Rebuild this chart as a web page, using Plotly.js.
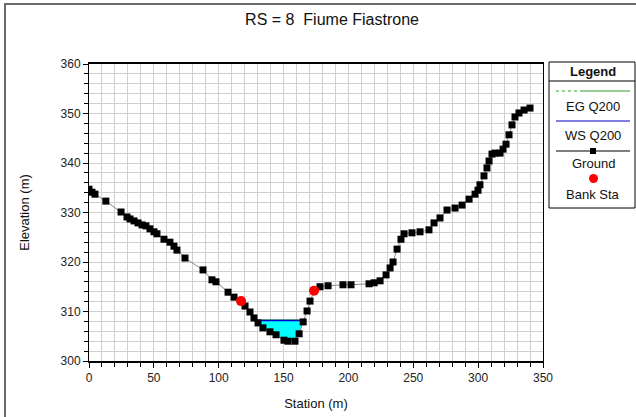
<!DOCTYPE html>
<html>
<head>
<meta charset="utf-8">
<script src="https://cdn.plot.ly/plotly-3.0.1.min.js"></script>
<style>
  html, body { margin: 0; padding: 0; background: #fff; }
  #chart { position: absolute; left: 0; top: 0; width: 636px; height: 417px; }
  #frame { position: absolute; left: 4px; top: 3px; width: 660px; height: 440px;
           border: 2px solid #6a6a6a; pointer-events: none; }
</style>
</head>
<body>
<div id="chart"></div>
<div id="frame"></div>
<script>
// Cross-section RS = 8, Fiume Fiastrone: ground survey points (station, elevation)
const groundStation = [0, 2.3, 4.6, 13, 24.7, 29.3, 31.6, 34.7, 37.8, 40.9, 43.9, 47, 50.1, 52.4,
  57.8, 62.4, 65.5, 67.8, 74, 87.9, 94.8, 97.9, 107.2, 111.8, 117.2, 120.3, 124.1, 127.2,
  130.3, 134.1, 139.5, 144.2, 150.3, 153.4, 158.8, 162, 165.1, 168.1, 170.4, 173.5, 178.1,
  184.3, 195.8, 202, 215.9, 219.8, 224.4, 229, 232.1, 234.4, 237.5, 240.5, 242.9, 249,
  255.2, 262.1, 266, 270.6, 276, 282.2, 287.6, 293, 297.6, 299.9, 301.4, 304.5, 306.8,
  308.4, 310.7, 313, 316.9, 319.2, 321.5, 323.8, 326.1, 328.4, 331.5, 335.4, 340];
const groundElev = [334.7, 334.1, 333.7, 332.3, 330.1, 329.1, 328.7, 328.3, 327.9, 327.5, 327.3,
  326.7, 326.1, 325.7, 324.6, 324, 323.2, 322.4, 320.8, 318.4, 316.4, 316, 313.9, 312.9,
  312.1, 311.1, 309.9, 308.7, 307.7, 306.7, 305.9, 305.3, 304.2, 304, 304, 305.5, 307.9,
  310.1, 312.1, 314.2, 315, 315.2, 315.4, 315.4, 315.6, 315.8, 316.2, 317.4, 318.8, 320,
  322.6, 324.6, 325.7, 325.9, 326.1, 326.5, 327.9, 328.9, 330.5, 330.9, 331.5, 332.7,
  333.7, 334.5, 335.6, 337.4, 339, 340.4, 341.8, 342, 342, 342.8, 343.8, 345.7, 347.7,
  349.3, 350.1, 350.7, 351.1];

// Bank stations
const bankStation = [117.2, 173.5];
const bankElev = [312.1, 314.2];

// Q200 profile: water surface and energy grade, with the wetted edges of the channel
const wsEdges = [126.4, 165.2];
const wsElev = 308.2;
const egElev = 308.3;

// Water polygon: surface line, then ground back across the channel bed
const waterX = [wsEdges[0], wsEdges[1]];
const waterY = [wsElev, wsElev];
for (let i = groundStation.length - 1; i >= 0; i--) {
  if (groundStation[i] > wsEdges[0] && groundStation[i] < wsEdges[1]) {
    waterX.push(groundStation[i]);
    waterY.push(groundElev[i]);
  }
}
waterX.push(wsEdges[0]);
waterY.push(wsElev);

const traces = [
  { x: waterX, y: waterY, type: 'scatter', mode: 'lines', fill: 'toself',
    fillcolor: '#00ffff', line: { color: 'rgba(0,0,0,0)', width: 0 }, hoverinfo: 'skip' },
  { x: wsEdges, y: [egElev, egElev], type: 'scatter', mode: 'lines', name: 'EG Q200',
    line: { color: '#2ca02c', width: 1 } },
  { x: wsEdges, y: [wsElev, wsElev], type: 'scatter', mode: 'lines', name: 'WS Q200',
    line: { color: '#0000cc', width: 1.5 } },
  { x: groundStation, y: groundElev, type: 'scatter', mode: 'lines+markers', name: 'Ground',
    line: { color: '#8a8a8a', width: 1 },
    marker: { symbol: 'square', size: 7, color: '#000' } },
  { x: bankStation, y: bankElev, type: 'scatter', mode: 'markers', name: 'Bank Sta',
    marker: { symbol: 'circle', size: 10, color: '#ff0000' } }
];

// Plot area in pixels (left 89, right 543, top 64, bottom 361); helpers for the legend panel
const L = 89, R = 543, T = 64, B = 361;
const px = x => (x - L) / (R - L);
const py = y => (B - y) / (B - T);
const font = 'Liberation Sans, Arial, sans-serif';

const legendShapes = [
  { type: 'rect', xref: 'paper', yref: 'paper', x0: px(549), x1: px(635), y0: py(208), y1: py(62),
    line: { color: '#000', width: 1 }, fillcolor: '#fff', layer: 'above' },
  { type: 'line', xref: 'paper', yref: 'paper', x0: px(549), x1: px(635), y0: py(81), y1: py(81),
    line: { color: '#000', width: 1 } },
  { type: 'line', xref: 'paper', yref: 'paper', x0: px(556), x1: px(583), y0: py(91), y1: py(91),
    line: { color: '#2ca02c', width: 1, dash: 'dot' } },
  { type: 'line', xref: 'paper', yref: 'paper', x0: px(583), x1: px(630), y0: py(91), y1: py(91),
    line: { color: '#2ca02c', width: 1 } },
  { type: 'line', xref: 'paper', yref: 'paper', x0: px(556), x1: px(630), y0: py(121), y1: py(121),
    line: { color: '#0000cc', width: 1.2 } },
  { type: 'line', xref: 'paper', yref: 'paper', x0: px(556), x1: px(630), y0: py(151), y1: py(151),
    line: { color: '#000', width: 1 } },
  { type: 'rect', xref: 'paper', yref: 'paper', x0: px(590), x1: px(596), y0: py(154), y1: py(148),
    line: { color: '#000', width: 0 }, fillcolor: '#000' },
  { type: 'circle', xref: 'paper', yref: 'paper', x0: px(589), x1: px(598), y0: py(183), y1: py(174),
    line: { color: '#ff0000', width: 0 }, fillcolor: '#ff0000' }
];

const legendText = [
  ['Legend', 71, true], ['EG Q200', 106, false], ['WS Q200', 135, false],
  ['Ground', 163, false], ['Bank Sta', 194, false]
].map(([t, y, bold]) => ({
  text: bold ? '<b>' + t + '</b>' : t, xref: 'paper', yref: 'paper',
  x: px(593), y: py(y), xanchor: 'center', yanchor: 'middle', showarrow: false,
  font: { family: font, size: 13, color: '#111' }
}));

const layout = {
  width: 636, height: 417,
  margin: { l: L, r: 636 - R, t: T, b: 417 - B, pad: 0 },
  paper_bgcolor: '#fff', plot_bgcolor: '#fff',
  showlegend: false,
  font: { family: font, size: 12, color: '#222' },
  title: { text: 'RS = 8  Fiume Fiastrone', x: 332 / 636, xref: 'container', xanchor: 'center',
           y: 1 - 19 / 417, yref: 'container', yanchor: 'middle',
           font: { family: font, size: 16, color: '#111' } },
  xaxis: {
    range: [0, 350], dtick: 50, tick0: 0, ticks: 'outside', ticklen: 5, tickcolor: '#000',
    showline: true, linecolor: '#000', linewidth: 2, mirror: true, zeroline: false,
    showgrid: true, gridcolor: '#d0d0d0', gridwidth: 1,
    minor: { dtick: 10, ticks: 'outside', ticklen: 4, tickcolor: '#000', showgrid: true,
             gridcolor: '#d0d0d0', gridwidth: 1 },
    tickfont: { family: font, size: 12, color: '#222' },
    title: { text: 'Station (m)', standoff: 14, font: { family: font, size: 13, color: '#111' } }
  },
  yaxis: {
    range: [300, 360], dtick: 10, tick0: 300, ticks: 'outside', ticklen: 5, tickcolor: '#000',
    showline: true, linecolor: '#000', linewidth: 1, mirror: true, zeroline: false,
    showgrid: true, gridcolor: '#d0d0d0', gridwidth: 1,
    minor: { dtick: 2, ticks: 'outside', ticklen: 4, tickcolor: '#000', showgrid: true,
             gridcolor: '#d0d0d0', gridwidth: 1 },
    tickfont: { family: font, size: 12, color: '#222' },
    title: { text: 'Elevation (m)', standoff: 28, font: { family: font, size: 13, color: '#111' } }
  },
  shapes: legendShapes,
  annotations: legendText
};

Plotly.newPlot('chart', traces, layout, { displayModeBar: false, staticPlot: true });
</script>
</body>
</html>
